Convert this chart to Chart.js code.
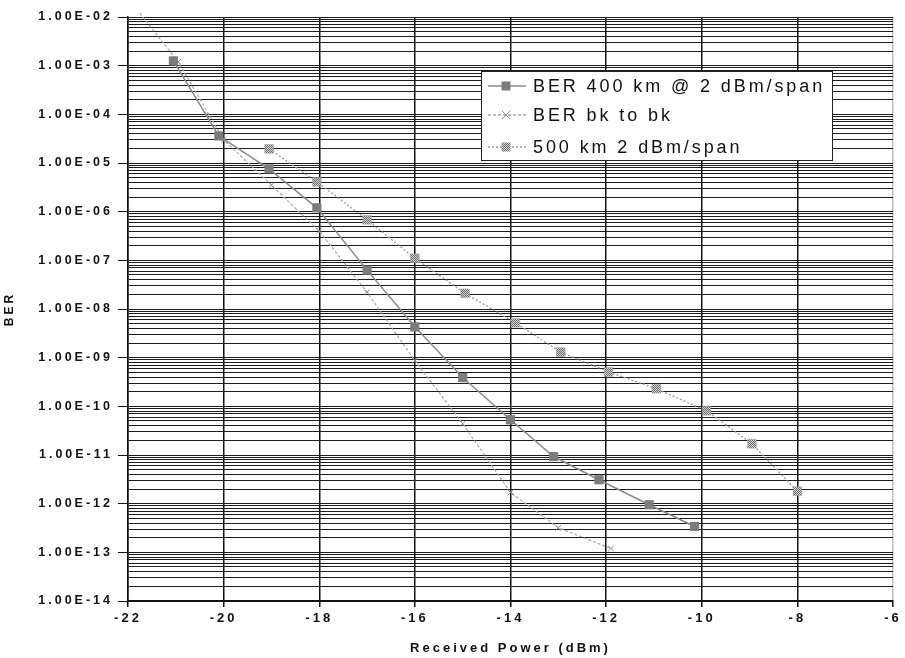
<!DOCTYPE html>
<html>
<head>
<meta charset="utf-8">
<script src="https://cdn.jsdelivr.net/npm/chart.js@4/dist/chart.umd.min.js"></script>
<style>
  html, body { margin: 0; padding: 0; background: #fff; }
  #wrap { width: 905px; height: 658px; }
</style>
</head>
<body>
<div id="wrap"><canvas id="berChart"></canvas></div>
<script>
// values: received power (dBm) and BER for each curve
const powerA = [-21.05, -20.1, -19.05, -18.05, -17, -16, -15, -14, -13.1, -12.15, -11.1, -10.15];
const berA   = [1.25e-3, 3.6e-5, 7.6e-6, 1.2e-6, 6.3e-8, 4.3e-9, 3.9e-10, 5.3e-11, 9.3e-12, 3.1e-12, 9.5e-13, 3.4e-13];

const powerB = [-21.75, -20.95, -20, -19, -18, -17, -16, -15, -14, -13, -11.9];
const berB   = [1.2e-2, 1.2e-3, 3.0e-5, 3.5e-6, 4.0e-7, 2.2e-8, 8.7e-10, 4.4e-11, 1.7e-12, 3.2e-13, 1.2e-13];

const powerC = [-19.05, -18.05, -17, -16, -14.95, -13.9, -12.95, -11.95, -10.95, -9.9, -8.95, -8];
const berC   = [1.95e-5, 4.1e-6, 6.8e-7, 1.1e-7, 2.1e-8, 5.2e-9, 1.3e-9, 5.1e-10, 2.3e-10, 8.1e-11, 1.7e-11, 1.8e-12];

const seriesNames = ['BER 400 km @ 2 dBm/span', 'BER bk to bk', '500 km 2 dBm/span'];

const xTicks = [-22, -20, -18, -16, -14, -12, -10, -8, -6];
const yExponents = [-14, -13, -12, -11, -10, -9, -8, -7, -6, -5, -4, -3, -2];
const yTickLabels = ['1.00E-14', '1.00E-13', '1.00E-12', '1.00E-11', '1.00E-10', '1.00E-09',
                     '1.00E-08', '1.00E-07', '1.00E-06', '1.00E-05', '1.00E-04', '1.00E-03', '1.00E-02'];

function toPoints(xs, ys) {
    return xs.map((x, i) => ({ x: x, y: ys[i] }));
}

// checkered fill for the 500 km markers
function makeHatch() {
    const c = document.createElement('canvas');
    c.width = 2; c.height = 2;
    const g = c.getContext('2d');
    g.fillStyle = '#d0d0d0';
    g.fillRect(0, 0, 2, 2);
    g.fillStyle = '#6e6e6e';
    g.fillRect(0, 0, 1, 1);
    g.fillRect(1, 1, 1, 1);
    return g.createPattern(c, 'repeat');
}
const hatch = makeHatch();

const styles = [
    { line: '#8a8a8a', dash: [], marker: 'rect' },
    { line: '#a8a8a8', dash: [3, 2], marker: 'cross' },
    { line: '#9a9a9a', dash: [2, 2], marker: 'hatch' }
];

function drawMarker(ctx, kind, x, y) {
    if (kind === 'rect') {
        ctx.fillStyle = '#7c7c7c';
        ctx.fillRect(x - 4.5, y - 4.5, 9, 9);
    } else if (kind === 'cross') {
        ctx.strokeStyle = '#8c8c8c';
        ctx.lineWidth = 1;
        ctx.setLineDash([]);
        ctx.beginPath();
        ctx.moveTo(x - 4, y - 4); ctx.lineTo(x + 4, y + 4);
        ctx.moveTo(x + 4, y - 4); ctx.lineTo(x - 4, y + 4);
        ctx.stroke();
    } else {
        ctx.fillStyle = hatch;
        ctx.fillRect(x - 4.5, y - 4.5, 9, 9);
    }
}

const spacedText = {
    id: 'spacedText',
    beforeDraw(chart) { chart.ctx.letterSpacing = '3px'; },
    afterDraw(chart) { chart.ctx.letterSpacing = '0px'; }
};

const legendBox = {
    id: 'legendBox',
    afterDraw(chart) {
        const ctx = chart.ctx;
        const a = chart.chartArea;
        const left = a.left + 353, top = a.top + 54;
        ctx.save();
        ctx.fillStyle = '#fff';
        ctx.fillRect(left, top, 351, 89);
        ctx.strokeStyle = '#222';
        ctx.lineWidth = 1;
        ctx.strokeRect(left + 0.5, top + 0.5, 351, 89);
        ctx.letterSpacing = '2.9px';
        ctx.font = '18px "Liberation Sans", Arial, sans-serif';
        ctx.textBaseline = 'middle';
        const rows = [top + 15, top + 44, top + 76];
        seriesNames.forEach((name, i) => {
            const st = styles[i];
            const y = rows[i];
            ctx.strokeStyle = st.line;
            ctx.lineWidth = 1.5;
            ctx.setLineDash(st.dash);
            ctx.beginPath();
            ctx.moveTo(left + 7, y);
            ctx.lineTo(left + 45, y);
            ctx.stroke();
            ctx.setLineDash([]);
            drawMarker(ctx, st.marker, left + 25, y);
            ctx.fillStyle = '#111';
            ctx.fillText(name, left + 52, y + 1);
        });
        ctx.restore();
    }
};

const ctx = document.getElementById('berChart').getContext('2d');
new Chart(ctx, {
    type: 'scatter',
    data: {
        datasets: [
            {
                label: seriesNames[0],
                data: toPoints(powerA, berA),
                showLine: true,
                borderColor: styles[0].line,
                borderWidth: 1.5,
                pointStyle: 'rect',
                pointRadius: 6.5,
                pointBackgroundColor: '#7c7c7c',
                pointBorderColor: '#7c7c7c',
                pointBorderWidth: 0
            },
            {
                label: seriesNames[1],
                data: toPoints(powerB, berB),
                showLine: true,
                clip: false,
                borderColor: styles[1].line,
                borderWidth: 1.2,
                borderDash: styles[1].dash,
                pointStyle: 'crossRot',
                pointRadius: powerB.map((p, i) => i === 0 ? 0 : 4),
                pointBorderColor: '#8c8c8c',
                pointBorderWidth: 1
            },
            {
                label: seriesNames[2],
                data: toPoints(powerC, berC),
                showLine: true,
                borderColor: styles[2].line,
                borderWidth: 1.3,
                borderDash: styles[2].dash,
                pointStyle: 'rect',
                pointRadius: 6.2,
                pointBackgroundColor: hatch,
                pointBorderColor: '#a0a0a0',
                pointBorderWidth: 0.5
            }
        ]
    },
    options: {
        responsive: true,
        maintainAspectRatio: false,
        animation: false,
        layout: { padding: { top: 17, right: 12, left: 0, bottom: 0 } },
        plugins: {
            legend: { display: false },
            tooltip: { enabled: false }
        },
        scales: {
            x: {
                type: 'linear',
                min: -22,
                max: -6,
                afterBuildTicks: scale => {
                    scale.ticks = xTicks.map(v => ({ value: v }));
                },
                afterFit: scale => { scale.height = 57; },
                grid: {
                    color: c => c.index === xTicks.length - 1 ? '#bdbdbd' : '#111',
                    lineWidth: 1.5,
                    tickLength: 6,
                    tickColor: '#111'
                },
                border: { color: '#111', width: 1.5 },
                ticks: {
                    color: '#111',
                    padding: 4,
                    maxRotation: 0,
                    font: { family: '"Liberation Sans", Arial, sans-serif', size: 13, weight: 'bold' }
                },
                title: {
                    display: true,
                    text: 'Received Power (dBm)',
                    color: '#111',
                    padding: { top: 0, bottom: 2 },
                    font: { family: '"Liberation Sans", Arial, sans-serif', size: 13, weight: 'bold' }
                }
            },
            y: {
                type: 'logarithmic',
                min: 1e-14,
                max: 1e-2,
                afterBuildTicks: scale => {
                    const t = [];
                    yExponents.forEach((e, i) => {
                        const last = i === yExponents.length - 1;
                        for (let m = 1; m <= (last ? 1 : 9); m++) {
                            t.push({ value: m * Math.pow(10, e), major: m === 1 });
                        }
                    });
                    scale.ticks = t;
                },
                afterFit: scale => { scale.width = 128; },
                grid: {
                    color: '#1c1c1c',
                    lineWidth: 1,
                    tickLength: 10,
                    tickColor: c => (c.tick && c.tick.major) ? '#111' : 'rgba(0,0,0,0)'
                },
                border: { color: '#111', width: 1.5 },
                ticks: {
                    autoSkip: false,
                    color: '#111',
                    padding: 5,
                    font: { family: '"Liberation Sans", Arial, sans-serif', size: 12.5, weight: 'bold' },
                    callback: function (value, index, ticks) {
                        const t = ticks[index];
                        if (!t.major) return '';
                        const e = Math.round(Math.log10(value));
                        return yTickLabels[yExponents.indexOf(e)];
                    }
                },
                title: {
                    display: true,
                    text: 'BER',
                    color: '#111',
                    padding: { top: 2, bottom: 0 },
                    font: { family: '"Liberation Sans", Arial, sans-serif', size: 12, weight: 'bold' }
                }
            }
        }
    },
    plugins: [spacedText, legendBox]
});
</script>
</body>
</html>
